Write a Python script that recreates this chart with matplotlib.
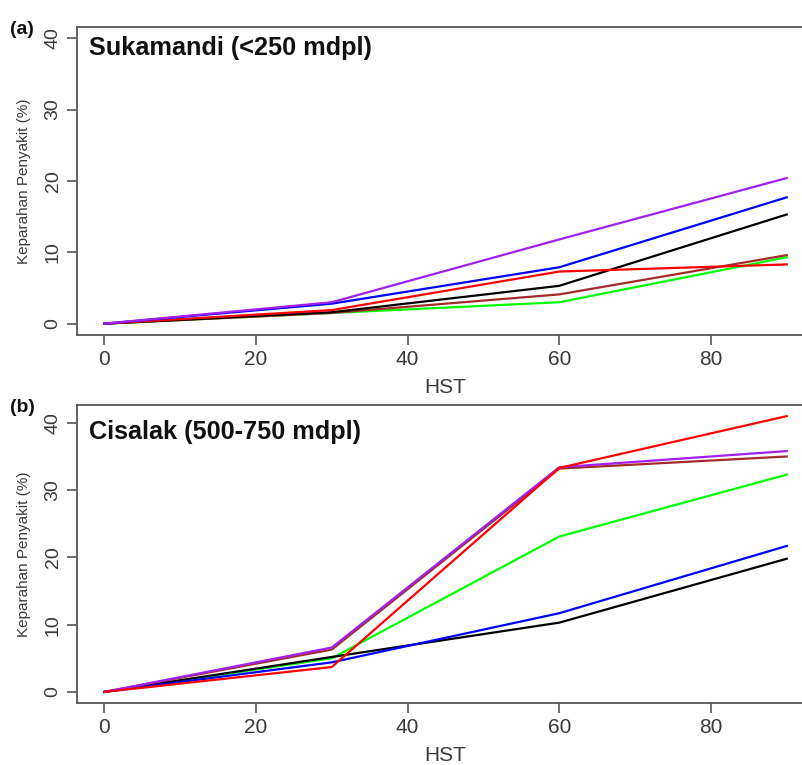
import matplotlib
matplotlib.use('Agg')
import matplotlib.pyplot as plt

# HST (hari setelah tanam)
hst = [0, 30, 60, 90]

# Panel (a) Sukamandi (<250 mdpl)
a_purple = [0, 3.0, 11.8, 20.4]
a_blue = [0, 2.8, 7.9, 17.7]
a_red = [0, 1.9, 7.3, 8.3]
a_black = [0, 1.6, 5.3, 15.3]
a_brown = [0, 1.5, 4.1, 9.6]
a_green = [0, 1.5, 3.0, 9.3]

# Panel (b) Cisalak (500-750 mdpl)
b_purple = [0, 6.6, 33.4, 35.8]
b_blue = [0, 4.4, 11.7, 21.7]
b_red = [0, 3.7, 33.3, 41.0]
b_black = [0, 5.2, 10.3, 19.8]
b_brown = [0, 6.3, 33.2, 35.0]
b_green = [0, 5.0, 23.1, 32.3]

x_ticks = [0, 20, 40, 60, 80]
y_ticks = [0, 10, 20, 30, 40]

panels = [
    ('(a)', 'Sukamandi (<250 mdpl)',
     [(a_green, '#00FF00'), (a_brown, '#A52A2A'), (a_black, 'black'),
      (a_red, 'red'), (a_blue, 'blue'), (a_purple, '#A020F0')],
     (-1.6, 41.6)),
    ('(b)', 'Cisalak (500-750 mdpl)',
     [(b_green, '#00FF00'), (b_black, 'black'), (b_blue, 'blue'),
      (b_brown, '#A52A2A'), (b_purple, '#A020F0'), (b_red, 'red')],
     (-1.65, 42.7)),
]

plt.rcParams['font.family'] = ['Liberation Sans', 'DejaVu Sans']
narrow = ['Liberation Sans Narrow', 'Liberation Sans', 'DejaVu Sans']
axis_grey = '#555555'
text_grey = '#3a3a3a'

fig = plt.figure(figsize=(8.02, 7.65), dpi=100)
positions = [[0.096, 0.562, 0.919, 0.403], [0.096, 0.081, 0.919, 0.390]]
label_y = [0.962, 0.467]
title_y = [0.93, 0.91]

for (tag, title, series, ylim), pos, ly, ty in zip(panels, positions, label_y, title_y):
    ax = fig.add_axes(pos)
    for values, color in series:
        ax.plot(hst, values, color=color, linewidth=1.6)

    ax.set_xlim(-3.6, 93.6)
    ax.set_ylim(*ylim)
    ax.set_xticks(x_ticks)
    ax.set_yticks(y_ticks)
    ax.tick_params(direction='out', length=7, width=1.2, color=axis_grey,
                   labelcolor=text_grey, pad=4)
    for lab in ax.get_xticklabels():
        lab.set_fontsize(15)
        lab.set_family(narrow)
    for lab in ax.get_yticklabels():
        lab.set_fontsize(14)
        lab.set_family(narrow)
        lab.set_rotation(90)
        lab.set_va('center')
    for spine in ax.spines.values():
        spine.set_color(axis_grey)
        spine.set_linewidth(1.3)
    ax.spines['right'].set_visible(False)

    ax.set_xlabel('HST', fontsize=15, color=text_grey, labelpad=6, family=narrow)
    ax.set_ylabel('Keparahan Penyakit (%)', fontsize=11, color=text_grey,
                  labelpad=10, family=narrow)

    ax.text(0.016, ty, title, transform=ax.transAxes,
            fontsize=18.2, fontweight='bold', color='#111111', va='center', ha='left')
    fig.text(0.012, ly, tag, fontsize=14, fontweight='bold', color='#111111',
             va='center', ha='left')

fig.savefig('out.png', dpi=100)
plt.close(fig)
